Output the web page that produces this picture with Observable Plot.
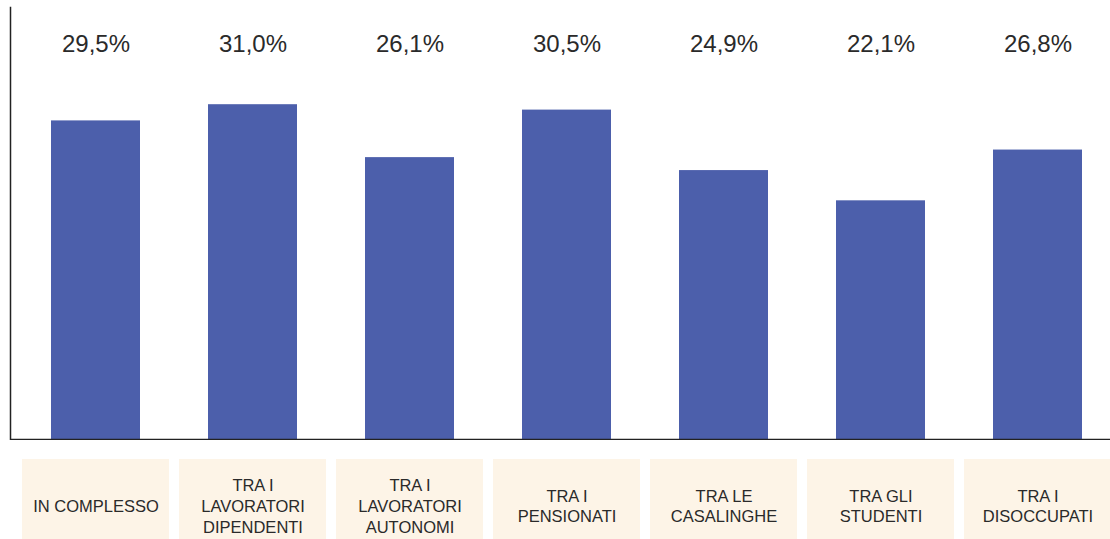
<!DOCTYPE html>
<html><head><meta charset="utf-8">
<script src="https://cdn.jsdelivr.net/npm/d3@7"></script>
<script src="https://cdn.jsdelivr.net/npm/@observablehq/plot@0.6"></script>
<style>
html,body{margin:0;padding:0;background:#fff;}
svg{display:block;}
#chart{width:1110px;height:539px;overflow:hidden;}
</style></head><body><div id="chart"></div>
<script>
const categories = ["IN COMPLESSO","TRA I LAVORATORI DIPENDENTI","TRA I LAVORATORI AUTONOMI","TRA I PENSIONATI","TRA LE CASALINGHE","TRA GLI STUDENTI","TRA I DISOCCUPATI"];
const labels = ["IN COMPLESSO","TRA I\nLAVORATORI\nDIPENDENTI","TRA I\nLAVORATORI\nAUTONOMI","TRA I\nPENSIONATI","TRA LE\nCASALINGHE","TRA GLI\nSTUDENTI","TRA I\nDISOCCUPATI"];
const values = [29.5, 31.0, 26.1, 30.5, 24.9, 22.1, 26.8];

const data = categories.map((c,i)=>({cat:c, label:labels[i], value:values[i]}));
const itLocale = d3.formatLocale({decimal:",", thousands:".", grouping:[3], currency:["","€"]});
const fmt = v => itLocale.format(".1f")(v) + "%";

const xOpts = {domain: categories, paddingInner: 0.433, paddingOuter: 0.2195, align: 0.594, axis: null};
const font = "'Liberation Sans', Arial, Helvetica, sans-serif";

const chartTop = Plot.plot({
  width: 1110, height: 440,
  marginLeft: 10, marginRight: 0, marginTop: 7, marginBottom: 1,
  style: {fontFamily: font, background: "#fff"},
  x: xOpts,
  y: {domain: [0, 40], axis: null},
  marks: [
    Plot.barY(data, {x: "cat", y: "value", fill: "#4c5fab"}),
    Plot.text(data, {x: "cat", text: d => fmt(d.value), frameAnchor: "top", dy: 37, fontSize: 24, fill: "#2a2a2a", lineAnchor: "middle"}),
    Plot.ruleY([0], {stroke: "#222", strokeWidth: 1.5}),
    Plot.frame({anchor: "left", stroke: "#222", strokeWidth: 1.5})
  ]
});

const chartBottom = Plot.plot({
  width: 1110, height: 107,
  marginLeft: 10, marginRight: 0, marginTop: 19, marginBottom: 0,
  style: {fontFamily: font, background: "#fff"},
  x: xOpts,
  marks: [
    Plot.cell(data, {x: "cat", fill: "#fdf4e7", insetLeft: -29, insetRight: -29}),
    Plot.text(data, {x: "cat", text: "label", frameAnchor: "middle", dy: 2, fontSize: 16.5, lineHeight: 1.25, fill: "#2a2a2a"})
  ]
});

document.getElementById("chart").append(chartTop, chartBottom);
</script></body></html>
